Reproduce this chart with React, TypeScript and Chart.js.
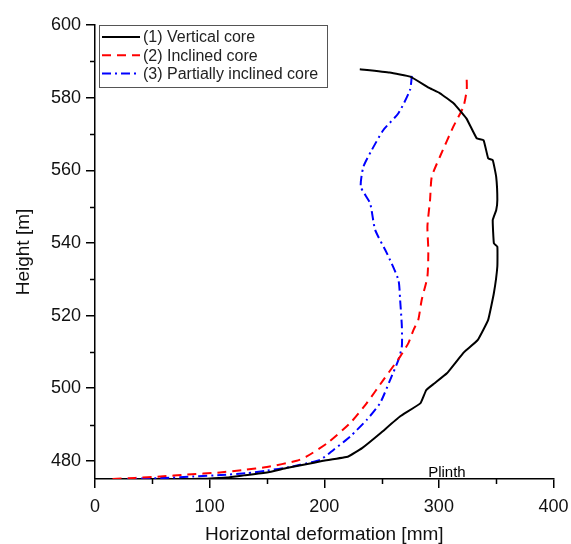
import React, { useEffect, useRef } from "react";
import { Chart, registerables } from "chart.js";

Chart.register(...registerables);

const seriesLabels = ["(1) Vertical core", "(2) Inclined core", "(3) Partially inclined core"];
const seriesColors = ["#000000", "#ff0000", "#0000ff"];

const verticalX = [231, 257, 275, 292, 301, 313, 324, 333, 339, 343, 347, 350, 351, 350, 347, 348, 351, 351, 348, 343, 334, 324, 321, 307, 296, 289, 284, 266, 249, 233, 221, 199, 183, 167, 150, 130, 115, 98, 85];
const verticalY = [587.8, 586.9, 585.8, 582.6, 581.2, 578.4, 574.3, 568.8, 568.3, 563.3, 562.8, 558.2, 551.8, 549, 546.3, 539.9, 539, 533.5, 526.2, 518.8, 513.3, 510.5, 509.6, 504.1, 501.3, 499.5, 495.9, 492.2, 487.6, 483.5, 481.2, 480.0, 479.0, 478.0, 476.8, 476.0, 475.4, 475.1, 475];

const inclinedX = [324.3, 324.3, 321.4, 312.6, 301, 293.8, 292.3, 290, 290.8, 290, 285, 282, 277.8, 273.4, 266.2, 251.6, 237.1, 222.6, 202.3, 184.7, 176, 150, 130, 109, 80, 57, 35, 13];
const inclinedY = [584.9, 582.1, 577.5, 572, 563.8, 558.2, 551.8, 544.5, 538, 530.7, 524.3, 518.8, 516, 512.4, 508.7, 502.3, 495.9, 490.4, 484.8, 481.2, 480, 478.3, 477.5, 476.8, 476.2, 475.7, 475.3, 475];

const partialX = [276.4, 274.8, 264.7, 251.6, 241.5, 234.2, 231.9, 240, 244.4, 254.6, 264.7, 266.2, 267.7, 267.7, 264.7, 257.5, 248.7, 237.1, 222.6, 208, 196.5, 179, 170, 150, 132.5, 110, 86, 60, 28];
const partialY = [586, 582.1, 575.7, 571.1, 565.6, 561, 555.5, 550.9, 543.6, 537.2, 529.8, 524.3, 517, 511.5, 507.8, 502.3, 495.9, 491.3, 486.7, 483, 480.3, 478.9, 478.3, 477.3, 476.6, 476.1, 475.7, 475.3, 475];

const xTicks = [0, 50, 100, 150, 200, 250, 300, 350, 400];
const xMajor = [0, 100, 200, 300, 400];
const yTicks = [480, 490, 500, 510, 520, 530, 540, 550, 560, 570, 580, 590, 600];
const yMajor = [480, 500, 520, 540, 560, 580, 600];

const plinthLabel = "Plinth";
const plinthPos = { x: 307, y: 476.6 };

const FONT = "'Liberation Sans', Arial, sans-serif";

function pairs(xs: number[], ys: number[]) {
  return xs.map((x, i) => ({ x, y: ys[i] }));
}

const extrasPlugin = {
  id: "extras",
  afterDraw(chart: any) {
    const ctx = chart.ctx;
    const xs = chart.scales.x;
    const ys = chart.scales.y;
    ctx.save();
    // minor ticks
    ctx.strokeStyle = "#000";
    ctx.lineWidth = 1.5;
    ctx.beginPath();
    xTicks.filter((v) => !xMajor.includes(v)).forEach((v) => {
      const px = Math.round(xs.getPixelForValue(v)) + 0.5;
      ctx.moveTo(px, xs.top);
      ctx.lineTo(px, xs.top + 5);
    });
    yTicks.filter((v) => !yMajor.includes(v)).forEach((v) => {
      const py = Math.round(ys.getPixelForValue(v)) + 0.5;
      ctx.moveTo(ys.right, py);
      ctx.lineTo(ys.right - 5, py);
    });
    ctx.stroke();

    // Plinth label
    ctx.fillStyle = "#000";
    ctx.font = `15px ${FONT}`;
    ctx.textAlign = "center";
    ctx.textBaseline = "middle";
    ctx.fillText(plinthLabel, xs.getPixelForValue(plinthPos.x), ys.getPixelForValue(plinthPos.y));

    // legend
    const bx = chart.chartArea.left + 4;
    const by = chart.chartArea.top;
    const bw = 228;
    const bh = 62;
    ctx.fillStyle = "#fff";
    ctx.fillRect(bx, by, bw, bh);
    ctx.strokeStyle = "#555";
    ctx.lineWidth = 1;
    ctx.setLineDash([]);
    ctx.strokeRect(bx + 0.5, by + 0.5, bw, bh);
    ctx.font = `16px ${FONT}`;
    ctx.textAlign = "left";
    ctx.textBaseline = "middle";
    chart.data.datasets.forEach((ds: any, i: number) => {
      const cy = by + 12 + i * 18.3;
      ctx.strokeStyle = ds.borderColor;
      ctx.lineWidth = 2;
      ctx.setLineDash(ds.borderDash || []);
      ctx.beginPath();
      ctx.moveTo(bx + 3, cy);
      ctx.lineTo(bx + 41, cy);
      ctx.stroke();
      ctx.setLineDash([]);
      ctx.fillStyle = "#222";
      ctx.fillText(ds.label, bx + 44, cy + 1);
    });
    ctx.restore();
  },
};

export default function App() {
  const ref = useRef<HTMLCanvasElement | null>(null);
  useEffect(() => {
    if (!ref.current) return;
    const chart = new Chart(ref.current, {
      type: "scatter",
      data: {
        datasets: [
          {
            label: seriesLabels[0],
            data: pairs(verticalX, verticalY),
            borderColor: seriesColors[0],
            backgroundColor: seriesColors[0],
            borderWidth: 2,
            showLine: true,
            pointRadius: 0,
            tension: 0.1,
          },
          {
            label: seriesLabels[1],
            data: pairs(inclinedX, inclinedY),
            borderColor: seriesColors[1],
            backgroundColor: seriesColors[1],
            borderWidth: 2,
            borderDash: [9, 6],
            showLine: true,
            pointRadius: 0,
            tension: 0.2,
          },
          {
            label: seriesLabels[2],
            data: pairs(partialX, partialY),
            borderColor: seriesColors[2],
            backgroundColor: seriesColors[2],
            borderWidth: 2,
            borderDash: [9, 4, 2, 4],
            showLine: true,
            pointRadius: 0,
            tension: 0.2,
          },
        ],
      },
      options: {
        animation: false,
        responsive: false,
        devicePixelRatio: 1,
        layout: { padding: { left: 0, top: 25, right: 17.5, bottom: 0 } },
        plugins: { legend: { display: false }, tooltip: { enabled: false } },
        scales: {
          x: {
            type: "linear",
            min: 0,
            max: 400,
            afterBuildTicks: (s: any) => {
              s.ticks = xTicks.map((v) => ({ value: v }));
            },
            afterFit: (s: any) => {
              s.height = 71;
              s.paddingLeft = 0;
              s.paddingRight = 0;
            },
            ticks: {
              autoSkip: false,
              maxRotation: 0,
              padding: 8,
              color: "#111",
              font: { family: FONT, size: 18 },
              callback: (v: any) => (xMajor.includes(Number(v)) ? String(v) : ""),
            },
            grid: {
              drawOnChartArea: false,
              drawTicks: true,
              tickLength: 9,
              lineWidth: 1.5,
              tickColor: (c: any) => (c.tick && xMajor.includes(c.tick.value) ? "#000" : "rgba(0,0,0,0)"),
              color: "rgba(0,0,0,0)",
            },
            border: { display: true, color: "#000", width: 1.5 },
            title: {
              display: true,
              text: "Horizontal deformation [mm]",
              color: "#111",
              font: { family: FONT, size: 19 },
              padding: { top: 0, bottom: 4 },
            },
          },
          y: {
            type: "linear",
            min: 475,
            max: 600,
            afterBuildTicks: (s: any) => {
              s.ticks = yTicks.map((v) => ({ value: v }));
            },
            afterFit: (s: any) => {
              s.width = 95;
              s.paddingTop = 0;
              s.paddingBottom = 0;
            },
            ticks: {
              autoSkip: false,
              padding: 5,
              color: "#111",
              font: { family: FONT, size: 18 },
              callback: (v: any) => (yMajor.includes(Number(v)) ? String(v) : ""),
            },
            grid: {
              drawOnChartArea: false,
              drawTicks: true,
              tickLength: 9,
              lineWidth: 1.5,
              tickColor: (c: any) => (c.tick && yMajor.includes(c.tick.value) ? "#000" : "rgba(0,0,0,0)"),
              color: "rgba(0,0,0,0)",
            },
            border: { display: true, color: "#000", width: 1.5 },
            title: {
              display: true,
              text: "Height [m]",
              color: "#111",
              font: { family: FONT, size: 19 },
              padding: { top: 12, bottom: 0 },
            },
          },
        },
      },
      plugins: [extrasPlugin],
    } as any);
    return () => chart.destroy();
  }, []);
  return (
    <div style={{ position: "fixed", left: 0, top: 0, width: 571, height: 550, background: "#fff" }}>
      <canvas ref={ref} width={571} height={550} style={{ display: "block" }} />
    </div>
  );
}
